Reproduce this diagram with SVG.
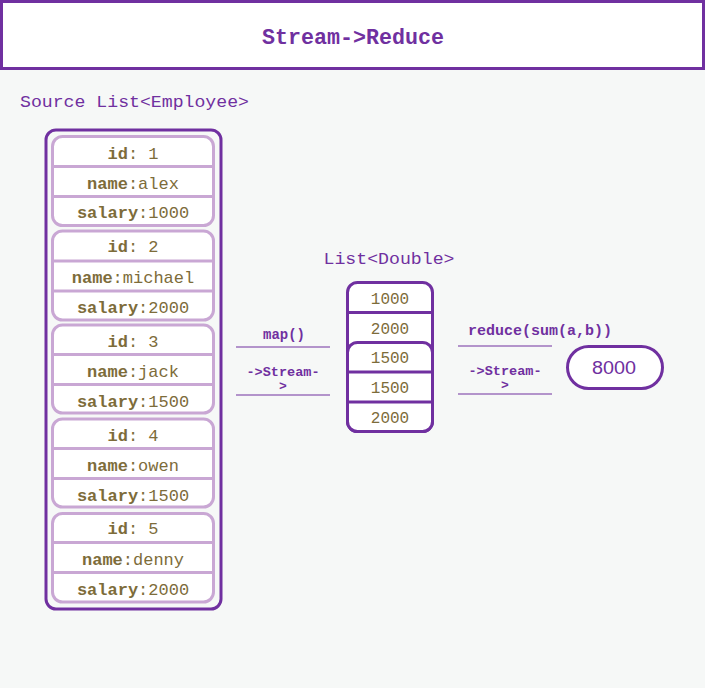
<svg xmlns="http://www.w3.org/2000/svg" width="705" height="688" viewBox="0 0 705 688">
<style>
.bg{fill:#f6f8f7}
.title{font-family:"Liberation Mono","DejaVu Sans Mono",monospace;font-size:22px;font-weight:bold;fill:#7030a0}
.lbl{font-family:"Liberation Mono","DejaVu Sans Mono",monospace;font-size:17px;fill:#7030a0}
.outer{fill:none;stroke:#7030a0;stroke-width:3}
.card{fill:#ffffff;stroke:#c9a7d4;stroke-width:3}
.div{stroke:#c9a7d4;stroke-width:3}
.t{font-family:"Liberation Mono","DejaVu Sans Mono",monospace;font-size:17px;fill:#7d6c3a;text-anchor:middle}
.n{font-size:16px}
.b{font-weight:bold}
.dbox{fill:#ffffff;stroke:#7030a0;stroke-width:3}
.ddiv{stroke:#7030a0;stroke-width:3}
.conn{stroke:#7030a0;stroke-width:1.2;fill:none}
.cl{font-family:"Liberation Mono","DejaVu Sans Mono",monospace;font-weight:bold;fill:#7030a0;text-anchor:middle}
.res{font-family:"Liberation Sans",Arial,sans-serif;font-size:18px;fill:#7030a0;text-anchor:middle}
</style>
<rect class="bg" x="0" y="0" width="705" height="688"/>
<g id="header">
<rect x="1.5" y="1.5" width="702" height="67" fill="#ffffff" stroke="#7030a0" stroke-width="3"/>
<text class="title" x="353" y="44" text-anchor="middle" textLength="182" lengthAdjust="spacingAndGlyphs">Stream-&gt;Reduce</text>
</g>
<g id="source-label">
<text class="lbl" x="20" y="107" textLength="229" lengthAdjust="spacingAndGlyphs">Source List&lt;Employee&gt;</text>
</g>
<g id="source-list">
<rect class="outer" x="46" y="130" width="175" height="479" rx="10"/>
<g id="emp1">
<rect class="card" x="52.5" y="136.5" width="161" height="89" rx="10"/>
<line class="div" x1="52.5" y1="166.5" x2="213.5" y2="166.5"/>
<line class="div" x1="52.5" y1="196.5" x2="213.5" y2="196.5"/>
<text class="t" x="133" y="159"><tspan class="b">id</tspan>: 1</text>
<text class="t" x="133" y="189"><tspan class="b">name</tspan>:alex</text>
<text class="t" x="133" y="218"><tspan class="b">salary</tspan>:1000</text>
</g>
<g id="emp2">
<rect class="card" x="52.5" y="231" width="161" height="89" rx="10"/>
<line class="div" x1="52.5" y1="261" x2="213.5" y2="261"/>
<line class="div" x1="52.5" y1="291" x2="213.5" y2="291"/>
<text class="t" x="133" y="252"><tspan class="b">id</tspan>: 2</text>
<text class="t" x="133" y="283"><tspan class="b">name</tspan>:michael</text>
<text class="t" x="133" y="313"><tspan class="b">salary</tspan>:2000</text>
</g>
<g id="emp3">
<rect class="card" x="52.5" y="325" width="161" height="88" rx="10"/>
<line class="div" x1="52.5" y1="354.5" x2="213.5" y2="354.5"/>
<line class="div" x1="52.5" y1="384.5" x2="213.5" y2="384.5"/>
<text class="t" x="133" y="347"><tspan class="b">id</tspan>: 3</text>
<text class="t" x="133" y="377"><tspan class="b">name</tspan>:jack</text>
<text class="t" x="133" y="407"><tspan class="b">salary</tspan>:1500</text>
</g>
<g id="emp4">
<rect class="card" x="52.5" y="419" width="161" height="88" rx="10"/>
<line class="div" x1="52.5" y1="448.5" x2="213.5" y2="448.5"/>
<line class="div" x1="52.5" y1="478.5" x2="213.5" y2="478.5"/>
<text class="t" x="133" y="441"><tspan class="b">id</tspan>: 4</text>
<text class="t" x="133" y="471"><tspan class="b">name</tspan>:owen</text>
<text class="t" x="133" y="501"><tspan class="b">salary</tspan>:1500</text>
</g>
<g id="emp5">
<rect class="card" x="52.5" y="513.5" width="161" height="88.5" rx="10"/>
<line class="div" x1="52.5" y1="542.5" x2="213.5" y2="542.5"/>
<line class="div" x1="52.5" y1="572.5" x2="213.5" y2="572.5"/>
<text class="t" x="133" y="534"><tspan class="b">id</tspan>: 5</text>
<text class="t" x="133" y="565"><tspan class="b">name</tspan>:denny</text>
<text class="t" x="133" y="595"><tspan class="b">salary</tspan>:2000</text>
</g>
</g>
<g id="double-label">
<text class="lbl" x="389" y="264" text-anchor="middle" textLength="131" lengthAdjust="spacingAndGlyphs">List&lt;Double&gt;</text>
</g>
<g id="double-list">
<rect class="dbox" x="347.5" y="282.5" width="85" height="149" rx="10"/>
<line class="ddiv" x1="347.5" y1="312.5" x2="432.5" y2="312.5"/>
<rect class="dbox" x="347.5" y="342.5" width="85" height="89" rx="10"/>
<line class="ddiv" x1="347.5" y1="372" x2="432.5" y2="372"/>
<line class="ddiv" x1="347.5" y1="402" x2="432.5" y2="402"/>
<text class="t n" x="390" y="304">1000</text>
<text class="t n" x="390" y="334">2000</text>
<text class="t n" x="390" y="363">1500</text>
<text class="t n" x="390" y="393">1500</text>
<text class="t n" x="390" y="423">2000</text>
</g>
<g id="connectors">
<line class="conn" x1="236" y1="347" x2="330" y2="347"/>
<line class="conn" x1="236" y1="395" x2="330" y2="395"/>
<text class="cl" x="284" y="339" style="font-size:14px">map()</text>
<text class="cl" x="283" y="376" style="font-size:13px" textLength="73" lengthAdjust="spacingAndGlyphs">-&gt;Stream-</text>
<text class="cl" x="283" y="390" style="font-size:13px">&gt;</text>
<line class="conn" x1="458" y1="346" x2="552" y2="346"/>
<line class="conn" x1="458" y1="394" x2="552" y2="394"/>
<text class="cl" x="540" y="335" style="font-size:15px" textLength="144" lengthAdjust="spacingAndGlyphs">reduce(sum(a,b))</text>
<text class="cl" x="505" y="375" style="font-size:13px" textLength="73" lengthAdjust="spacingAndGlyphs">-&gt;Stream-</text>
<text class="cl" x="505" y="389" style="font-size:13px">&gt;</text>
</g>
<g id="result">
<rect class="dbox" x="567.5" y="346.5" width="95" height="42" rx="21"/>
<text class="res" x="614" y="374" textLength="44" lengthAdjust="spacingAndGlyphs">8000</text>
</g>
</svg>
